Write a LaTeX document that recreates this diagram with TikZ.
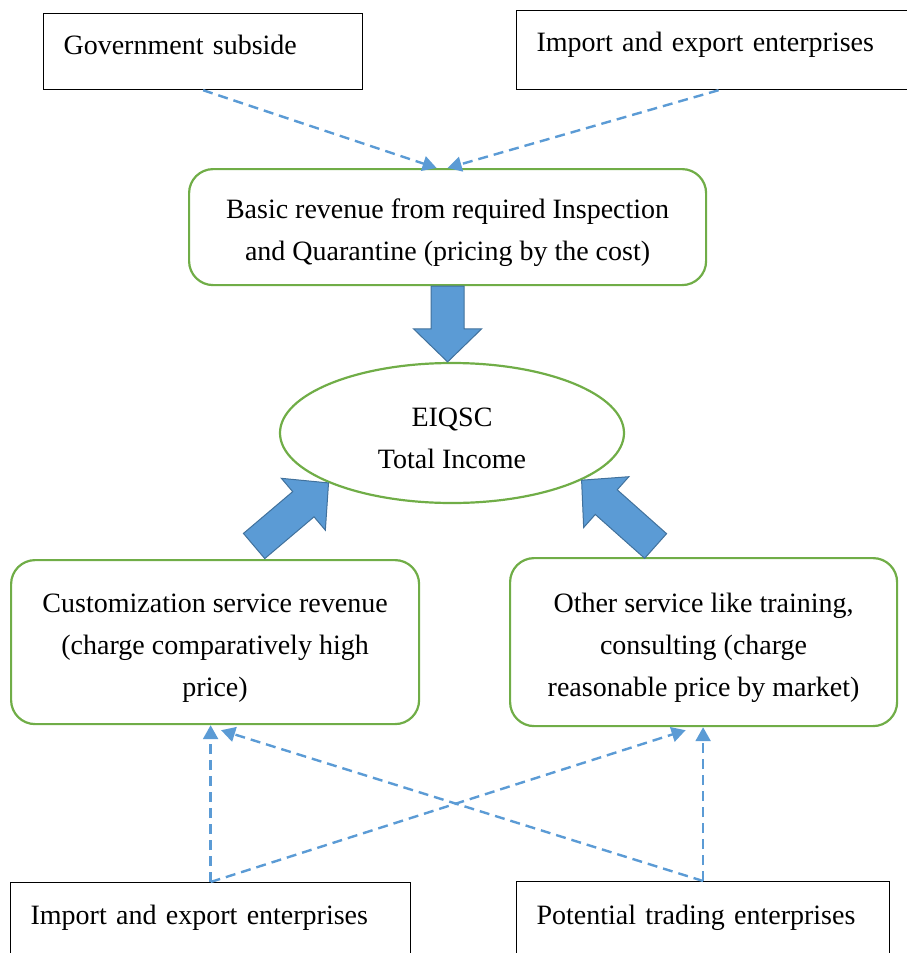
\documentclass[tikz,border=0pt]{standalone}
\usepackage{fontspec}
\setmainfont{Liberation Serif}
\usetikzlibrary{arrows.meta, positioning, shapes.geometric, calc}
\definecolor{boxgreen}{HTML}{70AD47}
\definecolor{flowblue}{HTML}{5B9BD5}
\definecolor{flowedge}{HTML}{41719C}

% taller first line, pushes centred text down a little
\newcommand{\toppad}{\rule{0pt}{30pt}}

% wide block arrow from #1 to #2
\newcommand{\bigarrow}[2]{%
  \draw[bigarr] let \p1=(#1), \p2=(#2),
    \n1={atan2(\y2-\y1,\x2-\x1)}, \n2={veclen(\x2-\x1,\y2-\y1)} in
    [shift={(\p1)}, rotate=\n1]
    (0pt,-16.5pt) -- ({\n2*1pt-33pt},-16.5pt) -- ({\n2*1pt-33pt},-34pt) -- ({\n2*1pt},0pt)
    -- ({\n2*1pt-33pt},34pt) -- ({\n2*1pt-33pt},16.5pt) -- (0pt,16.5pt) -- cycle;}

\begin{document}
\begin{tikzpicture}[
  x=1pt, y=-1pt,
  plainbox/.style={rectangle, draw=black, line width=1.2pt, anchor=north west, inner xsep=20pt, inner ysep=0pt, align=left, font=\fontsize{28pt}{42pt}\selectfont},
  roundbox/.style={rectangle, draw=boxgreen, line width=2.2pt, rounded corners=24pt, anchor=north west, align=center, inner sep=0pt, font=\fontsize{28pt}{42pt}\selectfont},
  totalnode/.style={ellipse, draw=boxgreen, line width=2.2pt, inner sep=0pt, minimum width=344pt, minimum height=140pt, align=center, font=\fontsize{28pt}{42pt}\selectfont},
  conn/.style={flowblue, line width=2.4pt, dash pattern=on 10pt off 6pt, -{Triangle[length=14pt, width=15pt]}},
  bigarr/.style={fill=flowblue, draw=flowedge, line width=1pt, line join=miter}
]
\useasboundingbox (0,0) rectangle (907,953);
\clip (0,0) rectangle (907,953);

\node[plainbox, text width=279pt, text height=41pt, text depth=35pt] (gov) at (43,13) {Government subside};
\node[plainbox, text width=364pt, text height=41pt, text depth=38pt] (imptop) at (516,10) {Import and export enterprises};

\node[roundbox, minimum width=517pt, minimum height=116pt] (basic) at (188,168)
  {\toppad Basic revenue from required Inspection\\and Quarantine (pricing by the cost)};
\node[totalnode] (total) at (452,433) {\toppad EIQSC\\Total Income};

\node[roundbox, minimum width=408pt, minimum height=164pt] (cust) at (10,559)
  {\toppad Customization service revenue\\(charge comparatively high\\price)};
\node[roundbox, minimum width=387pt, minimum height=168pt] (other) at (509,557)
  {\toppad Other service like training,\\consulting (charge\\reasonable price by market)};

\node[plainbox, text width=360pt, text height=42pt, text depth=100pt] (impbot) at (10,882) {Import and export enterprises};
\node[plainbox, text width=333pt, text height=43pt, text depth=100pt] (potential) at (516,881) {Potential trading enterprises};

\draw[conn] (gov.south) -- ([xshift=-11pt]basic.north);
\draw[conn] (imptop.south) -- (basic.north);

\bigarrow{basic.south}{basic.south |- total.north}
\bigarrow{[xshift=39pt,yshift=13pt]cust.north}{total.202}
\bigarrow{[xshift=-48pt,yshift=11pt]other.north}{total.340}

\draw[conn] (impbot.north) -- (impbot.north |- cust.south);
\draw[conn] (impbot.north) -- ([xshift=-18pt,yshift=-3pt]other.south);
\draw[conn] (potential.north) -- ([xshift=6pt,yshift=-5pt]cust.south);
\draw[conn] (potential.north) -- (potential.north |- other.south);
\end{tikzpicture}
\end{document}
